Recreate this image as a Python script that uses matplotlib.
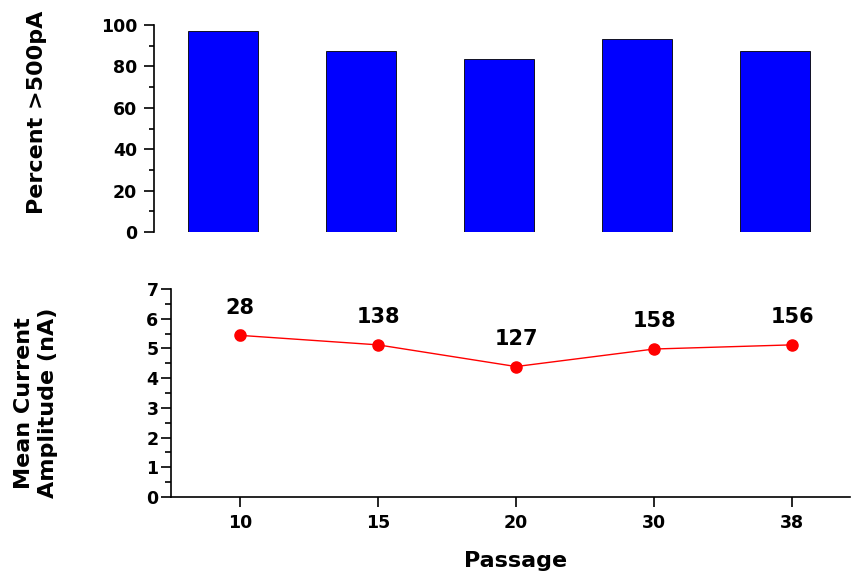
import numpy as np
import matplotlib.pyplot as plt
from matplotlib.ticker import MultipleLocator

# data
passages = ["10", "15", "20", "30", "38"]
percent_over_500pA = [97.1, 87.4, 83.6, 93.2, 87.4]
mean_current = [5.44, 5.12, 4.39, 4.98, 5.12]
current_err = [0.17, 0.05, 0.05, 0.05, 0.05]
n_cells = ["28", "138", "127", "158", "156"]

plt.rcParams['font.family'] = ['DejaVu Sans']
plt.rcParams['font.weight'] = 'bold'

W, H = 853, 575
fig = plt.figure(figsize=(W / 100, H / 100), dpi=100)

x = np.arange(len(passages))

# top panel: bars
ax1 = fig.add_axes([154 / W, (H - 232) / H, 690 / W, 207 / H])
ax1.bar(x, percent_over_500pA, width=0.51, color='#0000FF',
        edgecolor='black', linewidth=0.6)
ax1.set_xlim(-0.5, 4.5)
ax1.set_ylim(0, 100)
for s in ['top', 'right', 'bottom']:
    ax1.spines[s].set_visible(False)
ax1.spines['left'].set_linewidth(1.2)
ax1.set_xticks([])
ax1.yaxis.set_major_locator(MultipleLocator(20))
ax1.yaxis.set_minor_locator(MultipleLocator(10))
ax1.tick_params(axis='y', which='major', length=7, width=1.2, pad=5, labelsize=12.5)
ax1.tick_params(axis='y', which='minor', length=3.5, width=1.2)

# bottom panel: mean current
ax2 = fig.add_axes([171 / W, (H - 497) / H, 679 / W, 208 / H])
ax2.errorbar(x, mean_current, yerr=current_err, color='#FF0000', marker='o',
             markersize=8, linewidth=1, capsize=2.5, elinewidth=1)
for xi, yi, lab in zip(x, mean_current, n_cells):
    ax2.annotate(lab, (xi, yi), xytext=(0, 20), textcoords='offset points',
                 ha='center', va='center', fontsize=15, fontweight='bold')
ax2.set_xlim(-0.5, 4.42)
ax2.set_ylim(0, 7)
for s in ['top', 'right']:
    ax2.spines[s].set_visible(False)
for s in ['left', 'bottom']:
    ax2.spines[s].set_linewidth(1.2)
ax2.set_xticks(x)
ax2.set_xticklabels(passages)
ax2.yaxis.set_major_locator(MultipleLocator(1))
ax2.yaxis.set_minor_locator(MultipleLocator(0.5))
ax2.tick_params(axis='y', which='major', length=7, width=1.2, pad=2, labelsize=12.5)
ax2.tick_params(axis='y', which='minor', length=4, width=1.2)
ax2.tick_params(axis='x', which='major', length=7, width=1.2, pad=5, labelsize=12.5)

# axis labels
fig.text(37 / W, 1 - 112 / H, "Percent >500pA", rotation=90, ha='center',
         va='center', fontsize=16, fontweight='bold')
fig.text(36 / W, 1 - 403 / H, "Mean Current\nAmplitude (nA)", rotation=90,
         ha='center', va='center', fontsize=16, fontweight='bold',
         linespacing=1.3)
fig.text(516 / W, 1 - 561 / H, "Passage", ha='center', va='center',
         fontsize=16, fontweight='bold')

fig.savefig("out.png", dpi=100)
